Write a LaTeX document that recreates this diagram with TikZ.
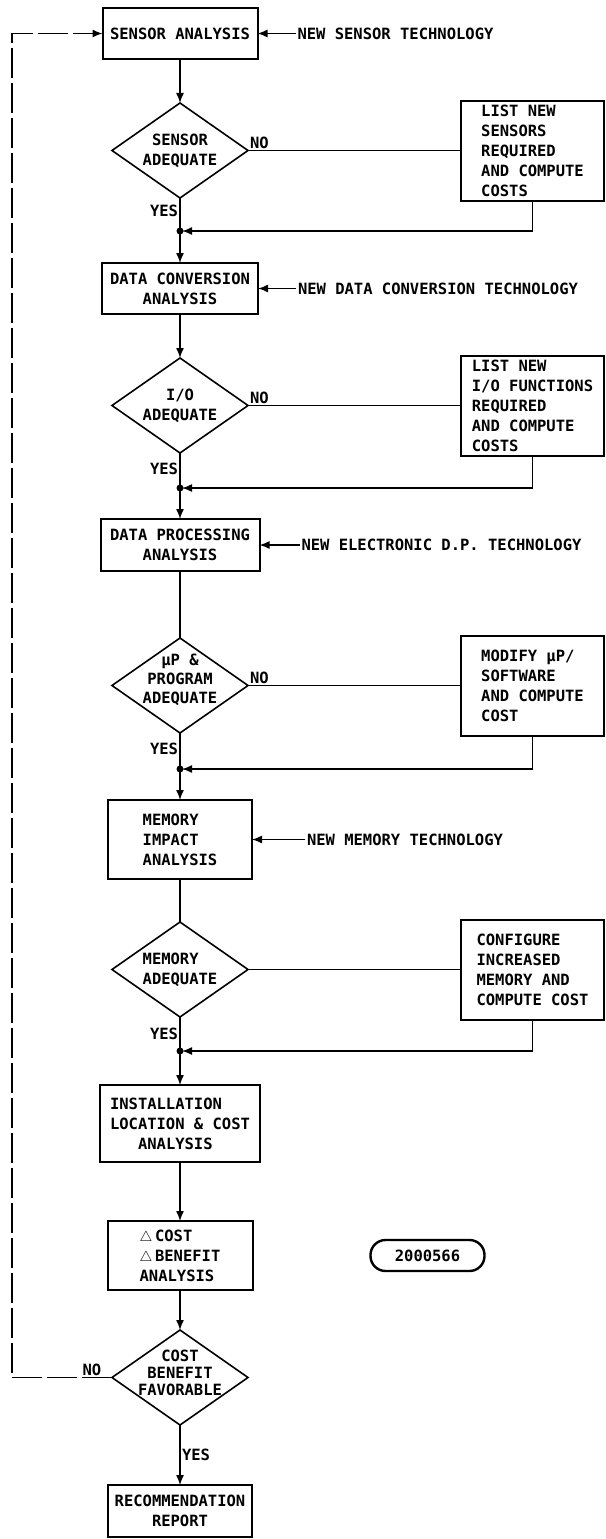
\documentclass[tikz,border=0pt]{standalone}
\usepackage{fontspec}
\setmonofont{DejaVu Sans Mono}
\usetikzlibrary{shapes.geometric, arrows.meta, positioning}

\begin{document}
\begin{tikzpicture}[
  x=1pt, y=1pt,
  every node/.style={font=\ttfamily\bfseries\fontsize{15.5}{20}\selectfont, outer sep=0pt},
  b/.style={rectangle, draw, line width=2pt, align=center, inner sep=2pt},
  d/.style={diamond, draw, line width=1.6pt, minimum width=136pt, minimum height=95pt, inner sep=0pt},
  dt/.style={align=center, inner sep=0pt},
  s/.style={rectangle, draw, line width=2pt, minimum width=143pt, minimum height=100pt, align=left, inner sep=2pt},
  lbl/.style={inner sep=2pt},
  ln/.style={line width=1.4pt},
  arr/.style={-{Latex[length=10pt,width=8pt]}, line width=1.4pt},
  back/.style={arr, dash pattern=on 30pt off 5pt},
]
\useasboundingbox (0,0) rectangle (605,-1539);

% main column
\node[b, minimum width=155pt, minimum height=51pt] (sa) at (180,-33.5) {SENSOR ANALYSIS};
\node[d, below=44pt of sa, label={[dt]center:{SENSOR\\ADEQUATE}}] (d1) {};
\coordinate[below=33pt of d1] (j1);
\node[b, minimum width=156pt, minimum height=51pt, below=32pt of j1] (dc) {DATA CONVERSION\\ANALYSIS};
\node[d, below=44pt of dc, label={[dt]center:{I/O\\ADEQUATE}}] (d2) {};
\coordinate[below=35pt of d2] (j2);
\node[b, minimum width=159pt, minimum height=52pt, below=31pt of j2] (dp) {DATA PROCESSING\\ANALYSIS};
\node[d, below=67pt of dp, label={[dt, yshift=6pt, font=\ttfamily\bfseries\fontsize{15.5}{19}\selectfont]center:{μP \&\\PROGRAM\\ADEQUATE}}] (d3) {};
\coordinate[below=36pt of d3] (j3);
\node[b, minimum width=144pt, minimum height=79pt, align=left, below=31pt of j3] (mem) {MEMORY\\IMPACT\\ANALYSIS};
\node[d, below=43pt of mem, label={[dt, align=left]center:{MEMORY\\ADEQUATE}}] (d4) {};
\coordinate[below=34pt of d4] (j4);
\node[b, minimum width=160pt, minimum height=77pt, align=left, below=34pt of j4] (inst) {INSTALLATION\\LOCATION \& COST\\\phantom{LOC}ANALYSIS};
\node[b, minimum width=145pt, minimum height=69pt, align=left, below=59pt of inst] (cb) {$\triangle$\,COST\\$\triangle$\,BENEFIT\\ANALYSIS};
\node[d, below=40pt of cb, label={[dt, yshift=5pt, font=\ttfamily\bfseries\fontsize{15.5}{17}\selectfont]center:{COST\\BENEFIT\\FAVORABLE}}] (d5) {};
\node[b, minimum width=144pt, minimum height=52pt, below=60pt of d5] (rec) {RECOMMENDATION\\REPORT};

% side boxes
\node[s, right=213pt of d1] (s1) {LIST NEW\\SENSORS\\REQUIRED\\AND COMPUTE\\COSTS};
\node[s, right=213pt of d2] (s2) {LIST NEW\\I/O FUNCTIONS\\REQUIRED\\AND COMPUTE\\COSTS};
\node[s, right=213pt of d3] (s3) {MODIFY μP/\\SOFTWARE\\AND COMPUTE\\COST};
\node[s, right=213pt of d4] (s4) {CONFIGURE\\INCREASED\\MEMORY AND\\COMPUTE COST};

% technology inputs
\node[lbl, right=38pt of sa] (t1) {NEW SENSOR TECHNOLOGY};
\node[lbl, right=38pt of dc] (t2) {NEW DATA CONVERSION TECHNOLOGY};
\node[lbl, right=40pt of dp] (t3) {NEW ELECTRONIC D.P. TECHNOLOGY};
\node[lbl, right=53pt of mem] (t4) {NEW MEMORY TECHNOLOGY};

\node[draw, line width=2.4pt, rounded corners=15pt, minimum width=114pt, minimum height=31pt, right=118pt of cb] (tag) {2000566};

\coordinate (fb) at (12,-33.5);

\draw[arr] (t1) -- (sa);
\draw[arr] (t2) -- (dc);
\draw[arr] (t3) -- (dp);
\draw[arr] (t4) -- (mem);

\draw[arr] (sa) -- (d1);
\draw[ln] (d1) -- node[lbl, left, pos=.4]{YES} (j1);
\draw[ln] (d1.east) -- node[lbl, above right, pos=0]{NO} (d1.east -| s1.west);
\draw[arr, shorten >=2pt] (s1.south) |- (j1);
\draw[arr] (j1) -- (dc);
\fill (j1) circle[radius=3.5pt];

\draw[arr] (dc) -- (d2);
\draw[ln] (d2) -- node[lbl, left, pos=.45]{YES} (j2);
\draw[ln] (d2.east) -- node[lbl, above right, pos=0]{NO} (d2.east -| s2.west);
\draw[arr, shorten >=2pt] (s2.south) |- (j2);
\draw[arr] (j2) -- (dp);
\fill (j2) circle[radius=3.5pt];

\draw[ln] (dp) -- (d3);
\draw[ln] (d3) -- node[lbl, left, pos=.45]{YES} (j3);
\draw[ln] (d3.east) -- node[lbl, above right, pos=0]{NO} (d3.east -| s3.west);
\draw[arr, shorten >=2pt] (s3.south) |- (j3);
\draw[arr] (j3) -- (mem);
\fill (j3) circle[radius=3.5pt];

\draw[ln] (mem) -- (d4);
\draw[ln] (d4) -- node[lbl, left, pos=.5]{YES} (j4);
\draw[ln] (d4.east) -- (d4.east -| s4.west);
\draw[arr, shorten >=2pt] (s4.south) |- (j4);
\draw[arr] (j4) -- (inst);
\fill (j4) circle[radius=3.5pt];

\draw[arr] (inst) -- (cb);
\draw[arr] (cb) -- (d5);
\draw[arr] (d5) -- node[lbl, right, pos=.5]{YES} (rec);
\draw[back] (d5.west) -| node[lbl, above, pos=.1]{NO} (fb) -- (sa.west);
\end{tikzpicture}
\end{document}
